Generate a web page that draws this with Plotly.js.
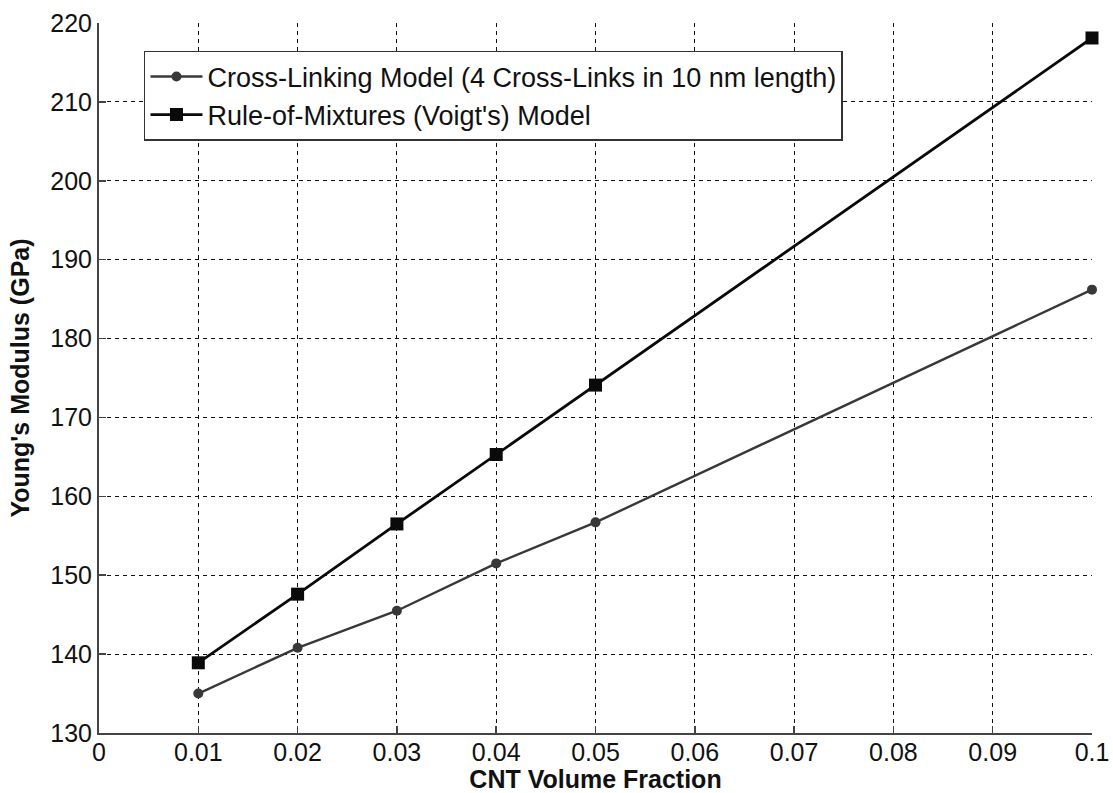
<!DOCTYPE html>
<html>
<head>
<meta charset="utf-8">
<script src="https://cdn.plot.ly/plotly-3.0.1.min.js"></script>
<style>html,body{margin:0;padding:0;background:#fff;}#chart{width:1113px;height:793px;}</style>
</head>
<body>
<div id="chart"></div>
<script>
const volumeFraction = [0.01, 0.02, 0.03, 0.04, 0.05, 0.1];
const crossLinking = [135.0, 140.8, 145.5, 151.5, 156.7, 186.2];
const ruleOfMixtures = [138.9, 147.6, 156.5, 165.3, 174.1, 218.1];
const xTicks = [0, 0.01, 0.02, 0.03, 0.04, 0.05, 0.06, 0.07, 0.08, 0.09, 0.1];
const xTickText = ['0', '0.01', '0.02', '0.03', '0.04', '0.05', '0.06', '0.07', '0.08', '0.09', '0.1'];
const yTicks = [130, 140, 150, 160, 170, 180, 190, 200, 210, 220];

const traces = [
  {
    x: volumeFraction, y: crossLinking, type: 'scatter', mode: 'lines+markers',
    name: 'Cross-Linking Model (4 Cross-Links in 10 nm length)',
    line: {color: '#383838', width: 2.4},
    marker: {symbol: 'circle', size: 10, color: '#383838'},
    cliponaxis: false
  },
  {
    x: volumeFraction, y: ruleOfMixtures, type: 'scatter', mode: 'lines+markers',
    name: "Rule-of-Mixtures (Voigt's) Model",
    line: {color: '#0a0a0a', width: 2.8},
    marker: {symbol: 'square', size: 13, color: '#0a0a0a'},
    cliponaxis: false
  }
];

const layout = {
  width: 1113, height: 793,
  margin: {l: 99, r: 21, t: 23, b: 60},
  paper_bgcolor: '#fff', plot_bgcolor: '#fff',
  font: {family: 'Liberation Sans, Arial, sans-serif', color: '#111', size: 25},
  showlegend: true,
  legend: {
    x: 0.0453, y: 0.9606, xanchor: 'left', yanchor: 'top',
    bordercolor: '#333', borderwidth: 1.5, bgcolor: '#fff',
    font: {size: 27, color: '#111'},
    itemwidth: 52,
    tracegroupgap: 0
  },
  xaxis: {
    range: [0, 0.1], tickvals: xTicks, ticktext: xTickText,
    showline: true, linecolor: '#444', linewidth: 2,
    ticks: 'inside', ticklen: 7, tickcolor: '#444', tickwidth: 1.5,
    showgrid: true, gridcolor: '#111', griddash: '4px,4px', gridwidth: 1,
    zeroline: false, mirror: false,
    tickfont: {size: 25},
    ticklabelstandoff: -4,
    title: {text: '<b>CNT Volume Fraction</b>', font: {size: 25}, standoff: 2}
  },
  yaxis: {
    range: [130, 220], tickvals: yTicks,
    showline: true, linecolor: '#444', linewidth: 2,
    ticks: 'inside', ticklen: 7, tickcolor: '#444', tickwidth: 1.5,
    showgrid: true, gridcolor: '#111', griddash: '4px,4px', gridwidth: 1,
    zeroline: false, mirror: false,
    tickfont: {size: 25},
    title: {text: "<b>Young's Modulus (GPa)</b>", font: {size: 25}, standoff: 14}
  }
};

Plotly.newPlot('chart', traces, layout, {displayModeBar: false, staticPlot: true});
</script>
</body>
</html>
